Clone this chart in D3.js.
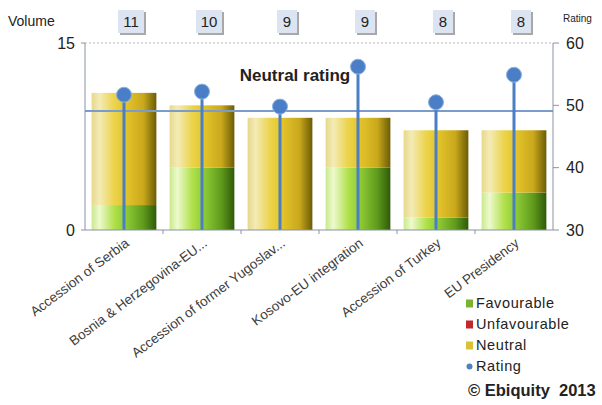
<!DOCTYPE html>
<html>
<head>
<meta charset="utf-8">
<script src="https://cdn.jsdelivr.net/npm/d3@7"></script>
<style>
  body { margin: 0; background: #fff; }
  svg { font-family: Arial, "Liberation Sans", sans-serif; }
</style>
</head>
<body>
<div id="chart"></div>
<script>
// chart data
const categories = ["Accession of Serbia", "Bosnia & Herzegovina-EU...", "Accession of former Yugoslav...",
  "Kosovo-EU integration", "Accession of Turkey", "EU Presidency"];
const favourable = [2, 5, 0, 5, 1, 3];
const unfavourable = [0, 0, 0, 0, 0, 0];
const neutral = [9, 5, 9, 4, 7, 5];
const volume = [11, 10, 9, 9, 8, 8];
const rating = [51.7, 52.2, 49.8, 56.2, 50.5, 54.9];
const neutralRating = 49.1;
const volumeTicks = [0, 15];
const ratingTicks = [30, 40, 50, 60];

const svgWidth = 602, svgHeight = 405;
const margin = { top: 43, bottom: 175, left: 85, right: 49 };
const width = svgWidth - margin.left - margin.right;
const height = svgHeight - margin.top - margin.bottom;

const svg = d3.select("#chart").append("svg")
  .attr("width", svgWidth)
  .attr("height", svgHeight);

// gradients for the cylinder look
const defs = svg.append("defs");
function grad(id, stops) {
  const g = defs.append("linearGradient").attr("id", id)
    .attr("x1", "0%").attr("x2", "100%").attr("y1", "0%").attr("y2", "0%");
  stops.forEach(s => g.append("stop").attr("offset", s[0]).attr("stop-color", s[1]));
}
grad("gNeutral", [["0%", "#e6d88a"], ["12%", "#f3ebb6"], ["35%", "#ecd34a"], ["55%", "#e2c22a"], ["80%", "#c9a81c"], ["100%", "#6b5c06"]]);
grad("gFav", [["0%", "#c9e98c"], ["12%", "#eef9cf"], ["35%", "#b0e04a"], ["55%", "#8cc834"], ["80%", "#5f9a1c"], ["100%", "#2f5a08"]]);
grad("gUnfav", [["0%", "#e07070"], ["40%", "#c83030"], ["100%", "#801010"]]);

const chart = svg.append("g")
  .attr("transform", `translate(${margin.left}, ${margin.top})`);

const x = d3.scaleBand()
  .domain(categories)
  .range([0, width])
  .paddingInner(0.17)
  .paddingOuter(0.085);

const yLeft = d3.scaleLinear().domain([0, 15]).range([height, 0]);
const yRight = d3.scaleLinear().domain([30, 60]).range([height, 0]);

const axisColor = "#8a93a3";

// top dotted grid line
chart.append("line")
  .attr("x1", 0).attr("x2", width)
  .attr("y1", yLeft(15)).attr("y2", yLeft(15))
  .attr("stroke", "#b8b8b8").attr("stroke-dasharray", "2,2");

// stacked bars
const stackData = categories.map((c, i) => ({ cat: c, fav: favourable[i], unfav: unfavourable[i], neu: neutral[i] }));
const stack = d3.stack().keys(["fav", "unfav", "neu"])(stackData);
const fills = { fav: "url(#gFav)", unfav: "url(#gUnfav)", neu: "url(#gNeutral)" };

stack.forEach(layer => {
  chart.append("g").selectAll("rect")
    .data(layer)
    .enter()
    .append("rect")
    .attr("x", d => x(d.data.cat))
    .attr("width", x.bandwidth())
    .attr("y", d => yLeft(d[1]))
    .attr("height", d => yLeft(d[0]) - yLeft(d[1]))
    .attr("fill", fills[layer.key]);
});

// neutral rating line
chart.append("line")
  .attr("x1", 0).attr("x2", width)
  .attr("y1", yRight(neutralRating)).attr("y2", yRight(neutralRating))
  .attr("stroke", "#7b9bcc").attr("stroke-width", 2);

chart.append("text")
  .attr("x", 210).attr("y", yRight(neutralRating) - 30)
  .attr("text-anchor", "middle")
  .attr("font-size", 17).attr("font-weight", "bold")
  .attr("fill", "#222")
  .text("Neutral rating");

// rating stems and dots
const cx = d => x(d) + x.bandwidth() / 2;
chart.append("g").selectAll("line")
  .data(categories)
  .enter()
  .append("line")
  .attr("x1", cx).attr("x2", cx)
  .attr("y1", (d, i) => yRight(rating[i]))
  .attr("y2", height)
  .attr("stroke", "#4a7fc4").attr("stroke-width", 3);

chart.append("g").selectAll("circle")
  .data(categories)
  .enter()
  .append("circle")
  .attr("cx", cx)
  .attr("cy", (d, i) => yRight(rating[i]))
  .attr("r", 7.5)
  .attr("fill", "#4a7fc8")
  .attr("stroke", "#8fb0de").attr("stroke-width", 1);

// axes
const xAxis = chart.append("g").attr("transform", `translate(0, ${height})`);
xAxis.append("line").attr("x1", 0).attr("x2", width).attr("stroke", axisColor);
xAxis.selectAll(".tk")
  .data(categories.slice(1))
  .enter()
  .append("line")
  .attr("x1", d => x(d) - x.step() * x.paddingInner() / 2)
  .attr("x2", d => x(d) - x.step() * x.paddingInner() / 2)
  .attr("y1", 0).attr("y2", 4)
  .attr("stroke", axisColor);

xAxis.selectAll("text.lbl")
  .data(categories)
  .enter()
  .append("text")
  .attr("class", "lbl")
  .attr("text-anchor", "end")
  .attr("font-size", 13.5)
  .attr("fill", "#3c3c3c")
  .attr("transform", d => `translate(${cx(d) + 6}, 15) rotate(-37)`)
  .text(d => d);

const leftAxis = chart.append("g");
leftAxis.append("line").attr("y1", 0).attr("y2", height).attr("stroke", axisColor);
leftAxis.selectAll("line.t").data(volumeTicks).enter().append("line")
  .attr("x1", -4).attr("x2", 0)
  .attr("y1", d => yLeft(d)).attr("y2", d => yLeft(d))
  .attr("stroke", axisColor);
leftAxis.selectAll("text").data(volumeTicks).enter().append("text")
  .attr("x", -10).attr("y", d => yLeft(d)).attr("dy", "0.36em")
  .attr("text-anchor", "end").attr("font-size", 16).attr("fill", "#222")
  .text(d => d);

const rightAxis = chart.append("g").attr("transform", `translate(${width}, 0)`);
rightAxis.append("line").attr("y1", 0).attr("y2", height).attr("stroke", axisColor);
rightAxis.selectAll("line.t").data(ratingTicks).enter().append("line")
  .attr("x1", 0).attr("x2", 6)
  .attr("y1", d => yRight(d)).attr("y2", d => yRight(d))
  .attr("stroke", axisColor);
rightAxis.selectAll("text").data(ratingTicks).enter().append("text")
  .attr("x", 13).attr("y", d => yRight(d)).attr("dy", "0.36em")
  .attr("font-size", 16).attr("fill", "#222")
  .text(d => d);

// axis titles
svg.append("text").attr("x", 8).attr("y", 26)
  .attr("font-size", 14).attr("fill", "#222").text("Volume");
svg.append("text").attr("x", 563).attr("y", 22)
  .attr("font-size", 10).attr("fill", "#222").text("Rating");

// volume boxes on top
const boxes = svg.append("g").selectAll("g")
  .data(categories)
  .enter()
  .append("g")
  .attr("transform", d => `translate(${margin.left + cx(d) + 7}, 22)`);
boxes.append("rect")
  .attr("x", (d, i) => -(volume[i] >= 10 ? 13 : 10) + 2)
  .attr("y", -10)
  .attr("width", (d, i) => volume[i] >= 10 ? 26 : 20)
  .attr("height", 23)
  .attr("fill", "#a8a8a8");
boxes.append("rect")
  .attr("x", (d, i) => -(volume[i] >= 10 ? 13 : 10))
  .attr("y", -12)
  .attr("width", (d, i) => volume[i] >= 10 ? 26 : 20)
  .attr("height", 23)
  .attr("fill", "#dbe4f0");
boxes.append("text")
  .attr("text-anchor", "middle").attr("dy", "0.36em")
  .attr("font-size", 15).attr("fill", "#222")
  .text((d, i) => volume[i]);

// legend
const legendItems = [
  { name: "Favourable", color: "#7bb32e", shape: "rect" },
  { name: "Unfavourable", color: "#c0282e", shape: "rect" },
  { name: "Neutral", color: "#d8c23a", shape: "rect" },
  { name: "Rating", color: "#4f81bd", shape: "circle" }
];
const legend = svg.append("g").attr("transform", "translate(466, 303)");
const li = legend.selectAll("g").data(legendItems).enter().append("g")
  .attr("transform", (d, i) => `translate(0, ${i * 21})`);
li.filter(d => d.shape === "rect").append("rect")
  .attr("x", 0).attr("y", -3.5).attr("width", 7).attr("height", 8)
  .attr("fill", d => d.color);
li.filter(d => d.shape === "circle").append("circle")
  .attr("cx", 3.5).attr("cy", 0.5).attr("r", 3)
  .attr("fill", d => d.color);
li.append("text")
  .attr("x", 10).attr("dy", "0.36em")
  .attr("font-size", 14.5).attr("letter-spacing", 0.6).attr("fill", "#222")
  .text(d => d.name);

svg.append("text").attr("x", 468).attr("y", 396)
  .attr("font-size", 16.5).attr("font-weight", "bold").attr("fill", "#222")
  .attr("xml:space", "preserve")
  .text("© Ebiquity  2013");
</script>
</body>
</html>
